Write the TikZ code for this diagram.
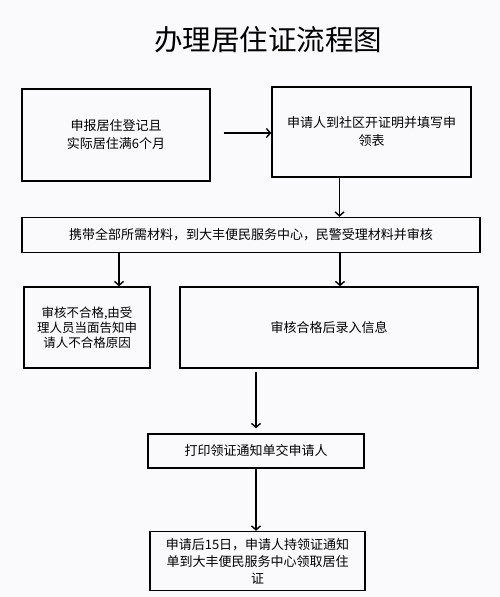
\documentclass[tikz,border=0pt]{standalone}
\usepackage{fontspec}
\setmainfont{Noto Sans CJK SC}
\usetikzlibrary{arrows.meta}
\definecolor{bgpaper}{RGB}{250,250,252}

\begin{document}
\begin{tikzpicture}[x=1pt,y=-1pt,>={Straight Barb[length=4pt,width=9pt]},
    box/.style={draw,line width=1.4pt,align=center,inner sep=2pt,
                font=\fontsize{13}{18}\selectfont},
    flow/.style={->,line width=1.4pt}]
    \fill[bgpaper] (0,0) rectangle (500,597);
    \useasboundingbox (0,0) rectangle (500,597);
    \node (title) at (268,40) {\fontsize{28.5}{30}\selectfont 办理居住证流程图};
    % top row
    \node[box,minimum width=188pt,minimum height=92pt] (apply) at (116,135)
        {申报居住登记且\\实际居住满6个月};
    \node[box,minimum width=199pt,minimum height=90pt] (cert) at (371.5,132)
        {申请人到社区开证明并填写申\\领表};
    \draw[flow,shorten <=13pt] (apply.east |- 0,133) -- (cert.west |- 0,133);
    % materials
    \node[box,minimum width=458pt,minimum height=35pt] (check) at (251,235)
        {携带全部所需材料，到大丰便民服务中心，民警受理材料并审核};
    \draw[flow] ([xshift=-32pt]cert.south) -- ([xshift=-32pt]cert.south |- check.north);
    % result of the check
    \node[box,minimum width=126pt,minimum height=81pt,
          font=\fontsize{12.5}{15}\selectfont] (fail) at (87,327.5)
        {审核不合格,由受\\理人员当面告知申\\请人不合格原因};
    \node[box,minimum width=298pt,minimum height=81pt] (pass) at (329,327.5)
        {审核合格后录入信息};
    \draw[flow] ([xshift=32pt]fail.north |- check.south) -- ([xshift=32pt]fail.north);
    \draw[flow] ([xshift=11pt]pass.north |- check.south) -- ([xshift=11pt]pass.north);
    % notice and collection
    \node[box,minimum width=216pt,minimum height=34pt] (notice) at (256,451)
        {打印领证通知单交申请人};
    \draw[flow,shorten <=3pt,shorten >=5pt] (notice.north |- pass.south) -- (notice.north);
    \node[box,minimum width=215pt,minimum height=59pt,
          font=\fontsize{13}{17}\selectfont] (collect) at (257.5,561)
        {申请后15日，申请人持领证通知\\单到大丰便民服务中心领取居住\\证};
    \draw[flow] (notice.south) -- (notice.south |- collect.north);
\end{tikzpicture}
\end{document}
